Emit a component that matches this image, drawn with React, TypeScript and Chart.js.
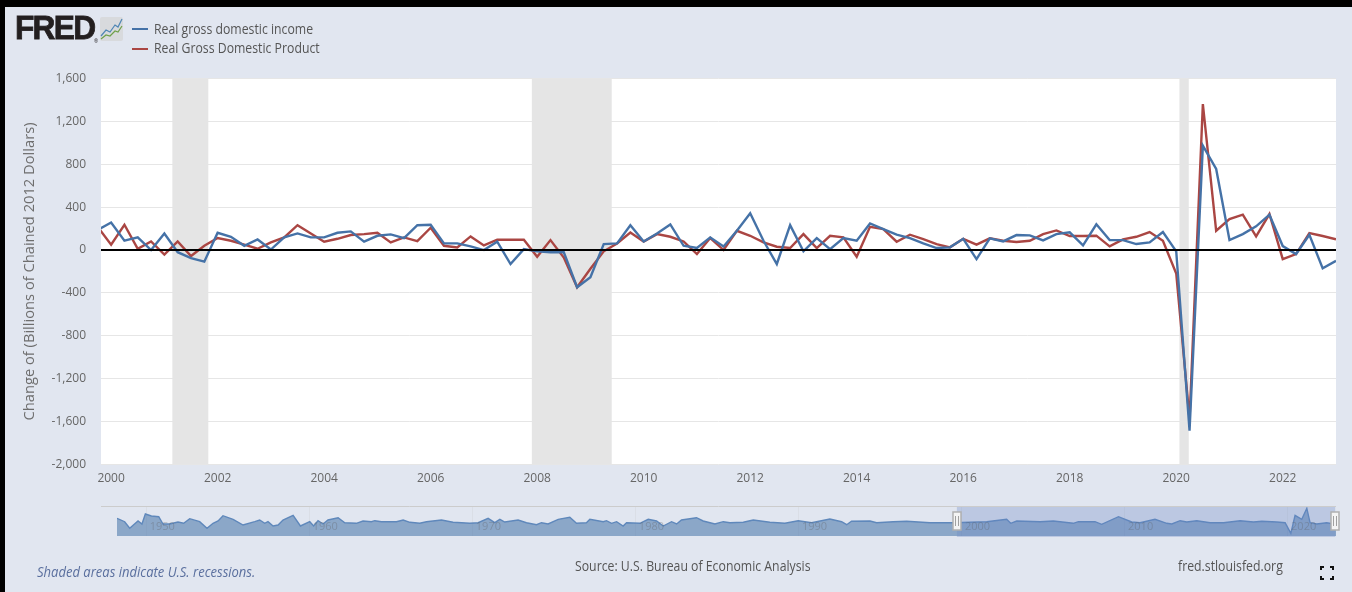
import React, { useEffect, useRef } from "react";
import { Chart, registerables } from "chart.js";

Chart.register(...registerables);

const FONT = '"Open Sans", sans-serif';

const quarters = [
  1999.75,
  2000, 2000.25, 2000.5, 2000.75, 2001, 2001.25, 2001.5, 2001.75,
  2002, 2002.25, 2002.5, 2002.75, 2003, 2003.25, 2003.5, 2003.75,
  2004, 2004.25, 2004.5, 2004.75, 2005, 2005.25, 2005.5, 2005.75,
  2006, 2006.25, 2006.5, 2006.75, 2007, 2007.25, 2007.5, 2007.75,
  2008, 2008.25, 2008.5, 2008.75, 2009, 2009.25, 2009.5, 2009.75,
  2010, 2010.25, 2010.5, 2010.75, 2011, 2011.25, 2011.5, 2011.75,
  2012, 2012.25, 2012.5, 2012.75, 2013, 2013.25, 2013.5, 2013.75,
  2014, 2014.25, 2014.5, 2014.75, 2015, 2015.25, 2015.5, 2015.75,
  2016, 2016.25, 2016.5, 2016.75, 2017, 2017.25, 2017.5, 2017.75,
  2018, 2018.25, 2018.5, 2018.75, 2019, 2019.25, 2019.5, 2019.75,
  2020, 2020.25, 2020.5, 2020.75, 2021, 2021.25, 2021.5, 2021.75,
  2022, 2022.25, 2022.5, 2022.75, 2023,
];

const realGDI = [
  187,
  257, 87, 118, 0, 155, -20, -75, -108,
  161, 124, 40, 99, 5, 118, 155, 118,
  118, 161, 174, 78, 133, 146, 112, 232,
  236, 62, 62, 34, 0, 78, -130, 9,
  -12, -20, -20, -347, -254, 56, 62, 232,
  80, 155, 239, 40, 19, 118, 34, 180,
  344, 87, -130, 232, -12, 112, 9, 112,
  87, 248, 195, 143, 112, 62, 19, 25,
  105, -84, 109, 81, 140, 137, 90, 149,
  165, 44, 240, 93, 93, 56, 72, 168,
  -12, -1685, 973, 756, 93, 149, 221, 330,
  37, -37, 143, -171, -100,
];

const realGDP = [
  214,
  50, 236, 12, 81, -43, 81, -56, 40,
  112, 87, 50, 12, 71, 118, 232, 155,
  78, 105, 140, 149, 161, 71, 118, 84,
  208, 40, 25, 127, 43, 96, 96, 96,
  -62, 93, -70, -347, -175, -12, 62, 164,
  80, 149, 124, 80, -37, 112, 0, 180,
  133, 71, 31, 19, 149, 19, 133, 118,
  -62, 217, 195, 78, 143, 102, 56, 25,
  105, 50, 109, 87, 75, 87, 149, 183,
  131, 131, 134, 34, 100, 124, 168, 87,
  -218, -1577, 1362, 180, 289, 330, 127, 336,
  -84, -37, 159, 131, 100,
];

const recessionStarts = [2001.15, 2007.9, 2020.06];
const recessionEnds = [2001.825, 2009.4, 2020.235];

const xTickYears = [2000, 2002, 2004, 2006, 2008, 2010, 2012, 2014, 2016, 2018, 2020, 2022];
const yTickValues = [-2000, -1600, -1200, -800, -400, 0, 400, 800, 1200, 1600];

const seriesNames = ["Real gross domestic income", "Real Gross Domestic Product"];
const seriesColors = ["#4572A7", "#AA4643"];

const navYears = [
  1948.24, 1948.71, 1949.02, 1949.53, 1949.77, 1949.98, 1950.35, 1950.8, 1951.06, 1951.47,
  1951.98, 1952.33, 1952.7, 1953.31, 1953.76, 1954.13, 1954.44, 1954.74, 1955.36, 1955.97,
  1956.69, 1956.99, 1957.3, 1957.5, 1957.81, 1958.12, 1958.42, 1959.04, 1959.49, 1960.06,
  1960.3, 1960.57, 1960.88, 1961.18, 1961.8, 1962.21, 1962.92, 1963.33, 1963.84, 1964.05,
  1964.46, 1965.38, 1965.79, 1966.2, 1966.81, 1967.22, 1968.14, 1968.85, 1969.88, 1970.39,
  1971.0, 1971.41, 1971.72, 1972.02, 1972.84, 1973.35, 1973.97, 1974.27, 1974.68, 1975.3,
  1976.01, 1976.42, 1977.03, 1977.24, 1978.06, 1978.26, 1978.57, 1978.88, 1979.28, 1979.49,
  1980.31, 1980.82, 1981.33, 1981.74, 1982.25, 1982.56, 1982.86, 1983.78, 1984.19, 1984.91,
  1985.42, 1985.83, 1986.65, 1987.26, 1988.28, 1989.2, 1990.02, 1990.84, 1991.96, 1992.68,
  1992.99, 1993.29, 1994.42, 1994.83, 1995.85, 1996.67, 1998.1, 1999.53, 2001.58, 2002.8,
  2003.05, 2003.42, 2004.85, 2005.67, 2006.89, 2007.2, 2008.22, 2008.63, 2009.66, 2010.47,
  2010.98, 2011.9, 2012.62, 2012.93, 2013.44, 2013.85, 2014.46, 2015.28, 2016.1, 2017.12,
  2017.94, 2018.45, 2019.37, 2019.88, 2020.23, 2020.49, 2020.9, 2021.21, 2021.41, 2021.82,
  2022.43, 2022.84, 2023,
];

const navValues = [
  17.7, 14.3, 7.7, 15, 12, 22, 20, 19.3, 12, 12,
  14, 12.7, 17.3, 14.3, 7.7, 12.7, 15, 20.3, 16.7, 11,
  14.3, 16, 12.7, 14.3, 10, 11, 16, 20.7, 10, 14.3,
  10, 15.3, 12, 16, 18.3, 13.3, 12.7, 15, 14.3, 15.3,
  14.3, 14.3, 16, 13.7, 12.7, 14.3, 16, 13.7, 12.7, 13.3,
  17.7, 13.3, 16.7, 14, 16, 13.3, 11.3, 13.3, 12, 16.7,
  18.7, 12.7, 13.3, 16.7, 14.3, 15.3, 12.7, 14.3, 10, 13.3,
  12.7, 16.7, 15, 10, 14.3, 12, 16, 18.3, 15, 12,
  14.3, 13.3, 13.7, 16, 13.7, 12.7, 15.3, 13.3, 17, 14.3,
  11.3, 14.7, 15, 13.3, 14.3, 14.7, 13.3, 13.3, 14.3, 16.7,
  12.7, 15, 14.3, 15, 12.7, 14.3, 14.3, 11.7, 19.3, 14,
  13.3, 16.7, 12.7, 12, 15.3, 14, 15.3, 13.3, 13.3, 15.3,
  14, 14.7, 14, 13.3, 2.7, 20.7, 16.7, 27.7, 13.3, 12,
  13.3, 12, 13,
];
const navTickYears = [1950, 1960, 1970, 1980, 1990, 2000, 2010, 2020];
const navSelection = [1999.75, 2022.95];

const sourceText = "Source: U.S. Bureau of Economic Analysis";
const shadedText = "Shaded areas indicate U.S. recessions.";
const siteText = "fred.stlouisfed.org";
const yTitle = "Change of (Billions of Chained 2012 Dollars)";

const mainPlugin = {
  id: "fredMain",
  beforeDraw(chart: any) {
    const { ctx, chartArea: a } = chart;
    ctx.save();
    ctx.fillStyle = "#ffffff";
    ctx.fillRect(a.left, a.top, a.right - a.left, a.bottom - a.top);
    ctx.restore();
  },
  beforeDatasetsDraw(chart: any) {
    const { ctx, chartArea: a, scales } = chart;
    ctx.save();
    ctx.fillStyle = "#E5E5E5";
    recessionStarts.forEach((s, i) => {
      const x0 = scales.x.getPixelForValue(s);
      const x1 = scales.x.getPixelForValue(recessionEnds[i]);
      ctx.fillRect(x0, a.top, x1 - x0, a.bottom - a.top);
    });
    ctx.restore();
  },
  afterDatasetsDraw(chart: any) {
    const { ctx, chartArea: a, scales } = chart;
    const y = scales.y.getPixelForValue(0);
    ctx.save();
    ctx.strokeStyle = "#000000";
    ctx.lineWidth = 2;
    ctx.beginPath();
    ctx.moveTo(a.left, y);
    ctx.lineTo(a.right, y);
    ctx.stroke();
    ctx.restore();
  },
};

const navPlugin = {
  id: "fredNav",
  beforeDatasetsDraw(chart: any) {
    const { ctx, chartArea: a, scales } = chart;
    ctx.save();
    ctx.strokeStyle = "#DADEE6";
    ctx.lineWidth = 1;
    navTickYears.forEach((t) => {
      const x = Math.round(scales.x.getPixelForValue(t)) + 0.5;
      ctx.beginPath();
      ctx.moveTo(x, a.top);
      ctx.lineTo(x, a.bottom);
      ctx.stroke();
    });
    ctx.restore();
  },
  afterDatasetsDraw(chart: any) {
    const { ctx, chartArea: a, scales } = chart;
    ctx.save();
    const x0 = scales.x.getPixelForValue(navSelection[0]);
    const x1 = scales.x.getPixelForValue(navSelection[1]);
    ctx.fillStyle = "rgba(102,133,194,0.3)";
    ctx.fillRect(x0, a.top, x1 - x0, a.bottom - a.top + 1);
    ctx.font = `11px ${FONT}`;
    ctx.fillStyle = "rgba(90,90,90,0.32)";
    ctx.textBaseline = "middle";
    ctx.textAlign = "left";
    navTickYears.forEach((t) => {
      ctx.fillText(String(t), scales.x.getPixelForValue(t) + 4, a.top + 21);
    });
    ctx.strokeStyle = "#CCCCCC";
    ctx.lineWidth = 1;
    ctx.beginPath();
    ctx.moveTo(a.left - 16, a.top + 0.5);
    ctx.lineTo(a.right, a.top + 0.5);
    ctx.stroke();
    [x0, x1].forEach((x) => {
      ctx.fillStyle = "#F4F4F4";
      ctx.strokeStyle = "#B0B0B0";
      ctx.lineWidth = 1.5;
      ctx.beginPath();
      ctx.rect(Math.round(x) - 4, a.top + 6, 8, 18);
      ctx.fill();
      ctx.stroke();
      ctx.strokeStyle = "#A0A0A0";
      ctx.lineWidth = 1;
      ctx.beginPath();
      ctx.moveTo(Math.round(x) - 1.5, a.top + 10);
      ctx.lineTo(Math.round(x) - 1.5, a.top + 20);
      ctx.moveTo(Math.round(x) + 1.5, a.top + 10);
      ctx.lineTo(Math.round(x) + 1.5, a.top + 20);
      ctx.stroke();
    });
    ctx.restore();
  },
};

const textStyle: React.CSSProperties = {
  position: "absolute",
  fontFamily: FONT,
  whiteSpace: "nowrap",
  transformOrigin: "left center",
  lineHeight: "18px",
  height: 18,
};

export default function App() {
  const mainRef = useRef<HTMLCanvasElement>(null);
  const navRef = useRef<HTMLCanvasElement>(null);

  useEffect(() => {
    const main = new Chart(mainRef.current as HTMLCanvasElement, {
      type: "line",
      data: {
        datasets: seriesNames.map((name, i) => ({
          label: name,
          data: quarters.map((q, j) => ({ x: q, y: (i === 0 ? realGDI : realGDP)[j] })),
          borderColor: seriesColors[i],
          borderWidth: 2.4,
          pointRadius: 0,
          tension: 0,
          fill: false,
        })),
      },
      options: {
        animation: false,
        responsive: false,
        layout: { padding: { top: 78.5, right: 16, left: 0, bottom: 0 } },
        plugins: { legend: { display: false }, tooltip: { enabled: false } },
        scales: {
          x: {
            type: "linear",
            min: 1999.81,
            max: 2023,
            grid: { display: false, drawTicks: false },
            border: { display: false },
            afterBuildTicks(scale: any) {
              scale.ticks = xTickYears.map((value) => ({ value }));
            },
            afterFit(scale: any) {
              scale.height = 127.5;
            },
            ticks: {
              autoSkip: false,
              maxRotation: 0,
              padding: 7,
              color: "#666666",
              font: { family: FONT, size: 12 },
              callback: (v: any) => String(v),
            },
          },
          y: {
            min: -2000,
            max: 1600,
            grid: { color: "#E6E6E6", lineWidth: 1, drawTicks: false },
            border: { display: false },
            afterBuildTicks(scale: any) {
              scale.ticks = yTickValues.map((value) => ({ value }));
            },
            afterFit(scale: any) {
              scale.width = 101;
            },
            title: {
              display: true,
              text: yTitle,
              color: "#6E6E6E",
              font: { family: FONT, size: 14.7 },
              padding: { top: 21, bottom: 0 },
            },
            ticks: {
              autoSkip: false,
              padding: 15,
              color: "#666666",
              font: { family: FONT, size: 12 },
              callback: (v: any) => Number(v).toLocaleString("en-US"),
            },
          },
        },
      },
      plugins: [mainPlugin],
    } as any);

    const nav = new Chart(navRef.current as HTMLCanvasElement, {
      type: "line",
      data: {
        datasets: [
          {
            label: seriesNames[0],
            data: navYears.map((y, j) => ({ x: y, y: navValues[j] })),
            borderColor: "#5F88BB",
            backgroundColor: "rgba(69,114,167,0.55)",
            borderWidth: 1.4,
            pointRadius: 0,
            tension: 0,
            fill: "origin",
          },
        ],
      },
      options: {
        animation: false,
        responsive: false,
        layout: { padding: { top: 6, left: 22, right: 16, bottom: 6 } },
        plugins: { legend: { display: false }, tooltip: { enabled: false } },
        scales: {
          x: { type: "linear", display: false, min: 1948.24, max: 2023 },
          y: { display: false, min: 0, max: 30 },
        },
      },
      plugins: [navPlugin],
    } as any);

    return () => {
      main.destroy();
      nav.destroy();
    };
  }, []);

  return (
    <div style={{ position: "fixed", inset: 0, background: "#000", overflow: "hidden" }}>
      <div style={{ position: "absolute", left: 5, top: 7, width: 1347, height: 585, background: "#E1E6F0" }} />
      <canvas ref={mainRef} width={1352} height={592} style={{ position: "absolute", left: 0, top: 0, width: 1352, height: 592 }} />
      <canvas ref={navRef} width={1257} height={42} style={{ position: "absolute", left: 95, top: 500, width: 1257, height: 42 }} />

      <div style={{ ...textStyle, left: 15, top: 8, height: 40, lineHeight: "40px", fontFamily: '"Liberation Sans", sans-serif', fontWeight: 700, fontSize: 33, color: "#231F20", letterSpacing: -1.8, WebkitTextStroke: "0.8px #231F20", transform: "scaleX(0.96)" }}>FRED</div>
      <div style={{ ...textStyle, left: 94, top: 32, fontSize: 5, color: "#231F20" }}>®</div>
      <svg style={{ position: "absolute", left: 100, top: 17, width: 23, height: 24 }} viewBox="0 0 23 24">
        <rect x="0" y="0" width="23" height="24" rx="2" fill="#D8DADD" />
        <polyline points="1,19 6,13 10,15 15,8 18,10 22,2" fill="none" stroke="#4F86B5" strokeWidth="1.2" />
        <polyline points="1,22 6,18 10,19 15,14 18,15 22,9" fill="none" stroke="#6FA04A" strokeWidth="1.2" />
      </svg>

      {seriesNames.map((name, i) => (
        <React.Fragment key={name}>
          <div style={{ position: "absolute", left: 132, top: 28 + i * 19.5, width: 16, height: 2, background: seriesColors[i] }} />
          <div style={{ ...textStyle, left: 154, top: 19.5 + i * 19, fontSize: 14, color: "#555555", transform: "scaleX(0.876)" }}>{name}</div>
        </React.Fragment>
      ))}

      <div style={{ ...textStyle, left: 37, top: 563, fontSize: 14, fontStyle: "italic", color: "#5A6F9E", transform: "scaleX(0.93)" }}>{shadedText}</div>
      <div style={{ ...textStyle, left: 575, top: 557, fontSize: 14, color: "#555555", transform: "scaleX(0.877)" }}>{sourceText}</div>
      <div style={{ ...textStyle, left: 1178, top: 557, fontSize: 14, color: "#555555", transform: "scaleX(0.877)" }}>{siteText}</div>

      <svg style={{ position: "absolute", left: 1320, top: 566, width: 14, height: 14 }} viewBox="0 0 14 14">
        <path d="M1 4V1H4M10 1H13V4M13 10V13H10M4 13H1V10" fill="none" stroke="#111" strokeWidth="2" />
      </svg>
    </div>
  );
}
